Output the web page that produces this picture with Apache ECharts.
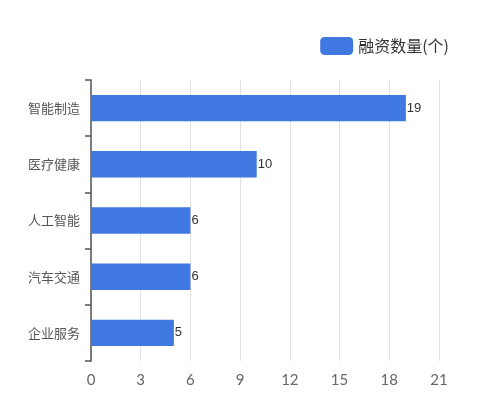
<!DOCTYPE html>
<html><head><meta charset="utf-8">
<script src="https://cdn.jsdelivr.net/npm/echarts@6/dist/echarts.min.js"></script>
<style>html,body{margin:0;padding:0;background:#fff}#c{width:500px;height:400px}</style>
</head><body><div id="c"></div>
<script>
const categories = ['企业服务', '汽车交通', '人工智能', '医疗健康', '智能制造'];
const values = [5, 6, 6, 10, 19];
const seriesName = '融资数量(个)';
const chart = echarts.init(document.getElementById('c'));
chart.setOption({
  animation: false,
  legend: {
    top: 32, right: 46,
    itemWidth: 33, itemHeight: 18, itemGap: 10,
    icon: 'roundRect',
    textStyle: { fontSize: 16, color: '#333', fontFamily: 'Noto Sans CJK SC' },
    data: [seriesName]
  },
  grid: { left: 91, right: 61, top: 80, bottom: 39, containLabel: false },
  xAxis: {
    type: 'value', min: 0, max: 21, interval: 3,
    axisLine: { show: false }, axisTick: { show: false },
    axisLabel: { fontSize: 15, color: '#666', margin: 12, fontFamily: 'Lato' },
    splitLine: { show: true, lineStyle: { color: '#e3e3e3' } }
  },
  yAxis: {
    type: 'category', data: categories,
    axisLine: { show: true, lineStyle: { color: '#555', width: 1.5 } },
    axisTick: { show: true, alignWithLabel: false, length: 6, lineStyle: { color: '#555', width: 1.5 } },
    axisLabel: { fontSize: 13, color: '#555', margin: 11, fontFamily: 'Noto Sans CJK SC' }
  },
  series: [{
    name: seriesName, type: 'bar', data: values,
    barWidth: '47%',
    itemStyle: { color: '#3f78e0' },
    label: { show: true, position: 'right', distance: 1, color: '#333', fontSize: 13, fontFamily: 'Liberation Sans' }
  }]
});
</script></body></html>
